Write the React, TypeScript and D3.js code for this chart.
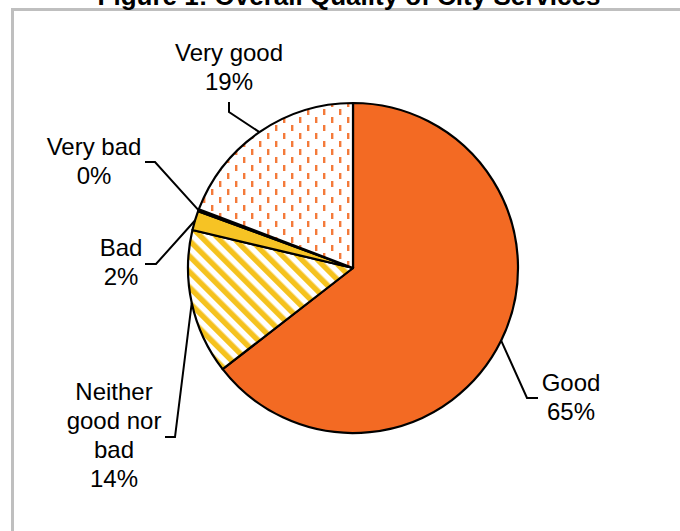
import React from "react";
import * as d3 from "d3";

const categories = ["Good", "Neither good nor bad", "Bad", "Very bad", "Very good"];
const values = [64.5, 14.2, 1.9, 0.2, 19.2];
const labelLines = [["Good"], ["Neither", "good nor", "bad"], ["Bad"], ["Very bad"], ["Very good"]];
const title = "Figure 1: Overall Quality of City Services";

const fills = ["#f36a23", "url(#stripes)", "#f6c324", "#f6c324", "url(#dashes)"];

// layout (positions of label text and leader elbows)
const layout = [
  { tx: 571, ty: 391, elbow: [527, 398], end: [538, 398] },
  { tx: 114, ty: 400, elbow: [175, 437], end: [165, 437] },
  { tx: 121, ty: 256, elbow: [156, 264], end: [145, 264] },
  { tx: 94, ty: 155, elbow: [155, 162], end: [145, 162] },
  { tx: 229, ty: 61, elbow: [229, 112], end: [229, 102] },
];

const W = 680;
const H = 531;
const cx = 353;
const cy = 268;
const R = 165;
const font = "Arial, 'Liberation Sans', sans-serif";
const lineH = 29;

export default function App() {
  const pie = d3.pie<number>().sort(null).value((d) => d);
  const arcs = pie(values);
  const arc = d3.arc<d3.PieArcDatum<number>>().innerRadius(0).outerRadius(R);

  return (
    <svg
      width={W}
      height={H}
      style={{ position: "absolute", left: 0, top: 0, background: "#fff" }}
    >
      <defs>
        <pattern id="dashes" patternUnits="userSpaceOnUse" width={16} height={16}>
          <rect x={0} y={0} width={16} height={16} fill="#fff" />
          <rect x={2} y={1} width={2.4} height={6} fill="#f47a3a" />
          <rect x={10} y={9} width={2.4} height={6} fill="#f47a3a" />
        </pattern>
        <pattern
          id="stripes"
          patternUnits="userSpaceOnUse"
          width={11}
          height={11}
          patternTransform="rotate(-45)"
        >
          <rect x={0} y={0} width={11} height={11} fill="#fff" />
          <rect x={0} y={0} width={5.5} height={11} fill="#f5c21e" />
        </pattern>
      </defs>
      <rect x={0} y={0} width={W} height={H} fill="#fff" />
      <rect
        x={12.5}
        y={9.5}
        width={720}
        height={560}
        fill="none"
        stroke="#bfbfbf"
        strokeWidth={3}
      />
      <text
        x={349}
        y={5}
        textAnchor="middle"
        fontFamily={font}
        fontWeight="bold"
        fontSize={26}
        fill="#000"
      >
        {title}
      </text>
      <g transform={`translate(${cx},${cy})`}>
        {arcs.map((a, i) => (
          <path
            key={categories[i]}
            d={arc(a) || ""}
            fill={fills[i]}
            stroke="#000"
            strokeWidth={2.2}
            strokeLinejoin="round"
          />
        ))}
      </g>
      {arcs.map((a, i) => {
        const mid = (a.startAngle + a.endAngle) / 2;
        const ex = cx + R * Math.sin(mid);
        const ey = cy - R * Math.cos(mid);
        const L = layout[i];
        return (
          <path
            key={"l" + i}
            d={`M${ex},${ey}L${L.elbow[0]},${L.elbow[1]}L${L.end[0]},${L.end[1]}`}
            fill="none"
            stroke="#000"
            strokeWidth={2}
          />
        );
      })}
      {arcs.map((a, i) => {
        const L = layout[i];
        const lines = [...labelLines[i], `${Math.round(values[i])}%`];
        return (
          <text
            key={"t" + i}
            x={L.tx}
            y={L.ty}
            textAnchor="middle"
            fontFamily={font}
            fontSize={24}
            fill="#000"
          >
            {lines.map((ln, j) => (
              <tspan key={j} x={L.tx} y={L.ty + j * lineH}>
                {ln}
              </tspan>
            ))}
          </text>
        );
      })}
    </svg>
  );
}
